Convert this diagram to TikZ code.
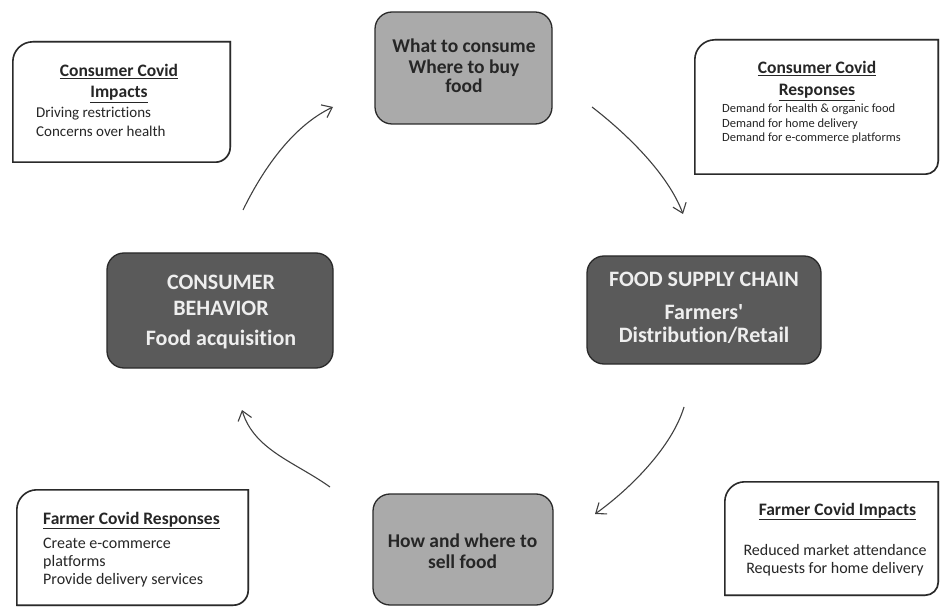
\documentclass[tikz,border=0pt]{standalone}
\usepackage{fontspec}
\setmainfont{Carlito}[Ligatures={TeXOff,CommonOff}]
\usetikzlibrary{arrows.meta}
\definecolor{lgray}{HTML}{AAAAAA}
\definecolor{dgray}{HTML}{5A5A5A}
\definecolor{ltext}{HTML}{EEEEEE}
\definecolor{edge}{HTML}{2A2A2A}
\begin{document}
\begin{tikzpicture}[x=1pt,y=1pt,
  lightbox/.style={draw=edge, line width=1.3pt, fill=lgray, rounded corners=17pt, inner sep=0},
  darkbox/.style={draw=edge, line width=1.3pt, fill=dgray, rounded corners=17pt, inner sep=0},
  holder/.style={inner sep=0, draw=none},
  noteline/.style={draw=edge, line width=1.6pt, fill=white},
  noteshadow/.style={draw=black!45, line width=1.6pt},
  flow/.style={draw=black!75, line width=1.1pt, -{Straight Barb[length=9pt,width=14pt]}},
  txt/.style={inner sep=0, anchor=base},
  txtl/.style={inner sep=0, anchor=base west},
  big/.style={font=\fontsize{22}{24}\selectfont\bfseries, text=ltext},
  mid/.style={font=\fontsize{19.5}{20}\selectfont\bfseries, text=black!85},
  ttl/.style={font=\fontsize{17.5}{20}\selectfont\bfseries, text=black!85},
  body/.style={font=\fontsize{15}{18}\selectfont, text=black!85},
  small/.style={font=\fontsize{12.5}{14}\selectfont, text=black!85},
  fbody/.style={font=\fontsize{16}{18}\selectfont, text=black!85}
]
\fill[white] (0,0) rectangle (940,606);
\path[use as bounding box] (0,0) rectangle (940,606);

% main boxes
\node[lightbox, minimum width=177pt, minimum height=112pt] (what) at (463.5,538) {};
\node[lightbox, minimum width=180pt, minimum height=111pt] (how) at (463,56.5) {};
\node[darkbox, minimum width=226pt, minimum height=115pt] (cb) at (220,295.5) {};
\node[darkbox, minimum width=234pt, minimum height=108pt] (fsc) at (704,296) {};

\node[txt, mid] (w1) at (464,553) {What to consume};
\node[txt, mid] (w2) at (464,532) {Where to buy};
\node[txt, mid] (w3) at (464,513) {food};

\node[txt, mid] (h1) at (462.5,59) {How and where to};
\node[txt, mid] (h2) at (462.5,38) {sell food};

\node[txt, big] (c1) at (221,316) {CONSUMER};
\node[txt, big] (c2) at (221,290) {BEHAVIOR};
\node[txt, big] (c3) at (221,260) {Food acquisition};

\node[txt, big] (f1) at (704,319) {FOOD SUPPLY CHAIN};
\node[txt, big] (f2) at (704,286) {Farmers'};
\node[txt, big] (f3) at (704,263) {Distribution/Retail};

% note boxes
\node[holder, minimum width=217pt, minimum height=120pt] (cci) at (121.5,504) {};
\node[holder, minimum width=243pt, minimum height=134pt] (ccr) at (816.5,499) {};
\node[holder, minimum width=231pt, minimum height=115pt] (fcr) at (132.5,58.5) {};
\node[holder, minimum width=213pt, minimum height=113pt] (fci) at (831.5,67.5) {};

\foreach \n/\ra/\rb in {cci/20/15, ccr/20/13, fcr/20/15, fci/20/13}{
  \draw[noteshadow, shift={(1.2,-1.2)}] ([xshift=\ra pt]\n.north west) -- (\n.north east)
    -- ([yshift=\rb pt]\n.south east)
    arc[start angle=0, end angle=-90, radius=\rb pt] -- (\n.south west);
  \draw[noteline] (\n.south west) -- ([yshift=-\ra pt]\n.north west)
    arc[start angle=180, end angle=90, radius=\ra pt] -- (\n.north east)
    -- ([yshift=\rb pt]\n.south east)
    arc[start angle=0, end angle=-90, radius=\rb pt] -- cycle;
}

\node[txt, ttl] (cci1) at (119,529) {\underline{Consumer Covid}};
\node[txt, ttl] (cci2) at (119,508) {\underline{Impacts}};
\node[txtl, body] (cci3) at (36,488) {Driving restrictions};
\node[txtl, body] (cci4) at (36,469) {Concerns over health};

\node[txt, ttl] (ccr1) at (817,532) {\underline{Consumer Covid}};
\node[txt, ttl] (ccr2) at (817,510) {\underline{Responses}};
\node[txtl, small] (ccr3) at (722,493) {Demand for health \& organic food};
\node[txtl, small] (ccr4) at (722,478) {Demand for home delivery};
\node[txtl, small] (ccr5) at (722,464) {Demand for e-commerce platforms};

\node[txtl, ttl] (fcr1) at (43,82) {\underline{Farmer Covid Responses}};
\node[txtl, fbody] (fcr2) at (43,58) {Create e-commerce};
\node[txtl, fbody] (fcr3) at (43,40) {platforms};
\node[txtl, fbody] (fcr4) at (43,22) {Provide delivery services};

\node[txt, ttl] (fci1) at (837.5,91) {\underline{Farmer Covid Impacts}};
\node[txt, fbody] (fci2) at (835,51) {Reduced market attendance};
\node[txt, fbody] (fci3) at (835,33) {Requests for home delivery};

% connectors
\coordinate (a1s) at (243,396);
\coordinate (a1e) at (333,499);
\coordinate (a2s) at (592,499);
\coordinate (a2e) at (683,392);
\coordinate (a3s) at (684,199);
\coordinate (a3e) at (595,92);
\coordinate (a4s) at (330,119);
\coordinate (a4e) at (242,196);

\draw[flow] (a1s) .. controls (265,441) and (295,481) .. (a1e);
\draw[flow] (a2s) .. controls (627,472) and (668,432) .. (a2e);
\draw[flow] (a3s) .. controls (672,159) and (630,117) .. (a3e);
\draw[flow] (a4s) .. controls (295,144) and (254,156) .. (a4e);
\end{tikzpicture}
\end{document}
